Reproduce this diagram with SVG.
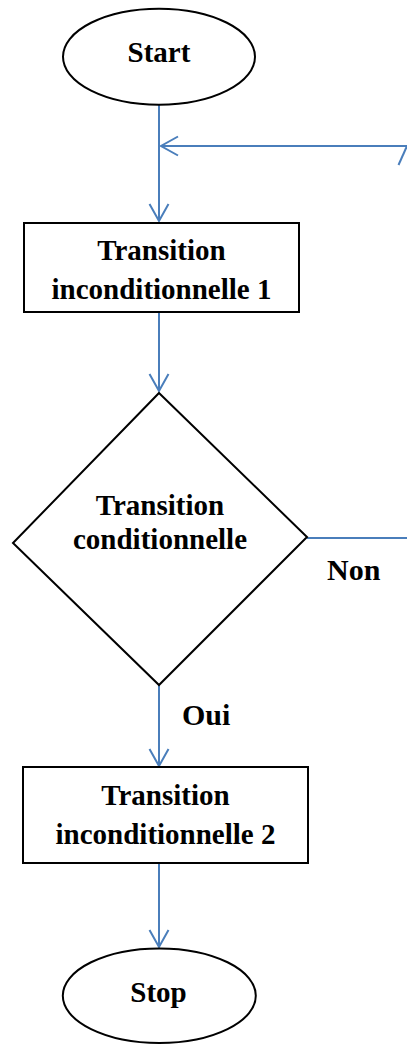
<svg xmlns="http://www.w3.org/2000/svg" width="407" height="1044" viewBox="0 0 407 1044">
<style>
.shape{fill:#fff;stroke:#000;stroke-width:2}
.conn{fill:none;stroke:#4a7ebb;stroke-width:2}
.t{font-family:"Liberation Serif","Times New Roman",serif;font-weight:bold;font-size:29px;fill:#000;text-anchor:middle}
.lbl{font-family:"Liberation Serif","Times New Roman",serif;font-weight:bold;font-size:30px;fill:#000}
</style>
<defs>
<marker id="arr" markerUnits="userSpaceOnUse" viewBox="-19 -12 21 24" markerWidth="21" markerHeight="24" refX="0" refY="0" orient="auto" overflow="visible">
<path d="M-17,-9.5 L0,0 L-17,9.5" fill="none" stroke="#4a7ebb" stroke-width="2"/>
</marker>
</defs>
<g id="connectors">
<line class="conn" x1="159" y1="105" x2="159" y2="221" marker-end="url(#arr)"/>
<line class="conn" x1="407" y1="146" x2="161" y2="146" marker-end="url(#arr)"/>
<line class="conn" x1="407" y1="146" x2="398.5" y2="165"/>
<line class="conn" x1="159" y1="312" x2="159" y2="391" marker-end="url(#arr)"/>
<line class="conn" x1="307" y1="538" x2="407" y2="538"/>
<line class="conn" x1="159" y1="685" x2="159" y2="766" marker-end="url(#arr)"/>
<line class="conn" x1="159" y1="864" x2="159" y2="947" marker-end="url(#arr)"/>
</g>
<g id="start">
<ellipse class="shape" cx="159" cy="56.7" rx="96" ry="48"/>
<text class="t" x="159" y="62">Start</text>
</g>
<g id="transition1">
<rect class="shape" x="24" y="223" width="275" height="89"/>
<text class="t" x="161.5" y="260">Transition</text>
<text class="t" x="161.5" y="299">inconditionnelle 1</text>
</g>
<g id="decision">
<polygon class="shape" points="159,393 307,537 159,685 13,543"/>
<text class="t" x="160" y="515">Transition</text>
<text class="t" x="160" y="549">conditionnelle</text>
</g>
<g id="label-non">
<text class="lbl" x="327" y="580">Non</text>
</g>
<g id="label-oui">
<text class="lbl" x="182" y="725">Oui</text>
</g>
<g id="transition2">
<rect class="shape" x="23" y="767" width="285" height="96"/>
<text class="t" x="165.5" y="805">Transition</text>
<text class="t" x="165.5" y="844">inconditionnelle 2</text>
</g>
<g id="stop">
<ellipse class="shape" cx="159.3" cy="995.7" rx="96.5" ry="47.3"/>
<text class="t" x="158.5" y="1002">Stop</text>
</g>
</svg>
